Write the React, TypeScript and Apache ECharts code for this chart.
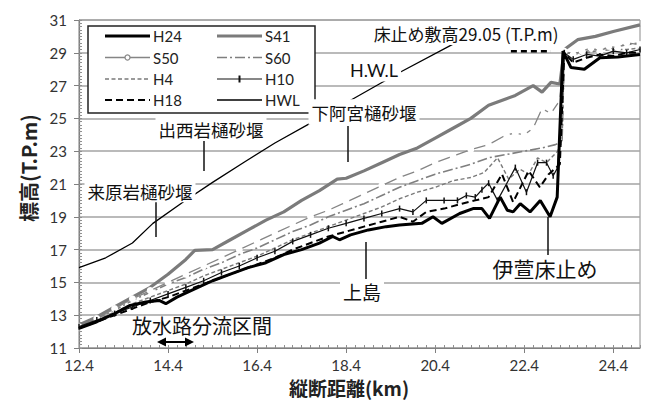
import React, { useEffect, useRef } from 'react';
import * as echarts from 'echarts';

const xTickValues = [12.4, 14.4, 16.4, 18.4, 20.4, 22.4, 24.4];
const yTickValues = [11, 13, 15, 17, 19, 21, 23, 25, 27, 29, 31];
const legendLeft = ['H24', 'S50', 'H4', 'H18'];
const legendRight = ['S41', 'S60', 'H10', 'HWL'];

const H24 = [[12.4,12.2],[12.8,12.6],[13.2,13.1],[13.55,13.6],[13.9,13.8],[14.2,13.9],[14.35,13.7],[14.6,14.1],[15.0,14.6],[15.4,15.1],[15.8,15.5],[16.2,15.9],[16.6,16.2],[17.0,16.7],[17.4,17.0],[17.8,17.4],[18.1,17.8],[18.25,17.6],[18.5,17.9],[18.9,18.2],[19.3,18.4],[19.6,18.5],[20.1,18.6],[20.35,19.0],[20.55,18.6],[20.95,19.2],[21.25,19.5],[21.45,19.5],[21.62,18.9],[21.86,20.2],[22.02,19.4],[22.15,19.3],[22.31,19.8],[22.53,19.3],[22.76,20.0],[22.98,19.0],[23.14,20.2],[23.27,29.1],[23.45,28.1],[23.75,28.0],[24.1,28.7],[24.5,28.75],[25.0,28.9]];
const S41 = [[12.4,12.4],[12.8,12.9],[13.2,13.5],[13.6,14.1],[14.0,14.7],[14.4,15.5],[14.8,16.4],[15.0,16.95],[15.4,17.0],[15.8,17.6],[16.2,18.2],[16.6,18.8],[17.0,19.3],[17.4,20.0],[17.8,20.6],[18.2,21.3],[18.4,21.35],[18.8,21.8],[19.2,22.3],[19.6,22.8],[20.0,23.2],[20.4,23.8],[20.8,24.4],[21.2,25.0],[21.6,25.8],[22.0,26.2],[22.2,26.4],[22.6,27.0],[22.8,26.6],[23.0,27.2],[23.2,27.1],[23.3,29.2],[23.6,29.8],[24.0,30.0],[24.4,30.3],[25.0,30.7]];
const S50 = [[12.4,12.3],[12.8,12.8],[13.2,13.4],[13.6,14.0],[14.0,14.5],[14.4,15.0],[14.8,15.5],[15.2,16.0],[15.6,16.5],[16.0,17.0],[16.4,17.5],[16.8,18.0],[17.2,18.5],[17.6,19.0],[18.0,19.4],[18.4,19.9],[18.8,20.4],[19.2,20.9],[19.6,21.4],[20.0,21.8],[20.4,22.3],[20.8,22.7],[21.2,23.1],[21.6,23.4],[22.0,24.0],[22.2,24.1],[22.4,24.0],[22.6,24.4],[22.8,25.6],[23.0,25.3],[23.2,26.1],[23.3,29.1],[23.5,28.9],[23.7,29.1],[23.9,29.3],[24.1,29.1],[24.3,29.4],[24.5,29.3],[24.7,29.6],[25.0,29.5]];
const S60 = [[12.4,12.3],[12.8,12.8],[13.2,13.3],[13.6,13.9],[14.0,14.4],[14.4,14.9],[14.8,15.3],[15.2,15.8],[15.6,16.2],[16.0,16.7],[16.4,17.1],[16.8,17.6],[17.2,18.1],[17.6,18.5],[18.0,19.0],[18.4,19.4],[18.8,19.8],[19.2,20.3],[19.6,20.8],[20.0,21.2],[20.4,21.6],[20.8,21.9],[21.2,22.2],[21.6,22.6],[22.0,22.8],[22.4,23.0],[22.8,23.2],[23.1,23.4],[23.25,23.6],[23.3,29.0],[23.6,29.0],[24.0,29.2],[24.4,29.3],[24.7,29.5],[25.0,29.6]];
const H4 = [[12.4,12.3],[12.8,12.7],[13.2,13.2],[13.6,13.7],[14.0,14.1],[14.4,14.5],[14.8,14.9],[15.2,15.4],[15.6,15.8],[16.0,16.2],[16.4,16.6],[16.8,17.1],[17.2,17.6],[17.6,18.0],[18.0,18.4],[18.4,18.8],[18.8,19.2],[19.2,19.6],[19.6,20.1],[20.0,20.5],[20.4,20.8],[20.8,21.2],[21.2,21.4],[21.5,21.7],[21.8,22.6],[22.05,21.3],[22.3,21.9],[22.5,21.6],[22.7,22.6],[22.9,22.3],[23.15,23.0],[23.25,23.6],[23.3,29.0],[23.6,28.9],[24.0,29.1],[24.4,29.2],[24.7,29.2],[25.0,29.3]];
const H10 = [[12.4,12.3],[12.8,12.7],[13.2,13.1],[13.6,13.5],[14.0,13.9],[14.4,14.3],[14.8,14.7],[15.2,15.1],[15.6,15.6],[16.0,16.0],[16.4,16.5],[16.8,16.9],[17.2,17.5],[17.6,17.9],[18.0,18.3],[18.4,18.6],[18.8,18.9],[19.2,19.2],[19.6,19.5],[19.9,19.3],[20.2,20.0],[20.6,20.0],[20.9,20.0],[21.1,20.3],[21.3,20.2],[21.45,20.65],[21.6,21.05],[21.8,20.0],[22.2,22.0],[22.45,20.5],[22.7,22.3],[22.9,22.3],[23.05,21.5],[23.15,22.0],[23.3,29.0],[23.5,28.6],[23.8,28.9],[24.1,28.8],[24.4,29.1],[24.7,29.0],[25.0,29.2]];
const H18 = [[12.4,12.2],[12.8,12.6],[13.2,13.0],[13.6,13.4],[14.0,13.8],[14.4,14.1],[14.8,14.5],[15.2,14.9],[15.6,15.3],[16.0,15.7],[16.4,16.1],[16.8,16.5],[17.2,17.0],[17.6,17.4],[18.0,17.8],[18.4,18.1],[18.8,18.4],[19.2,18.7],[19.6,19.0],[19.9,18.7],[20.2,19.3],[20.6,19.5],[21.0,19.8],[21.3,20.0],[21.6,20.2],[21.9,21.6],[22.15,19.9],[22.5,21.8],[22.75,20.8],[22.95,21.6],[23.2,22.2],[23.3,29.0],[23.5,28.4],[23.8,28.7],[24.1,28.9],[24.4,28.8],[24.7,29.0],[25.0,29.0]];
const HWL = [[12.4,15.9],[13.0,16.5],[13.6,17.4],[14.06,18.6],[14.74,19.9],[15.4,21.1],[16.09,22.3],[16.8,23.5],[17.59,24.7],[18.56,26.2],[19.6,27.8],[20.78,29.5],[21.3,30.2]];
const SILL = [[22.1,29.1],[23.0,29.1]];

const LATIN = 'Lato, "Noto Sans", sans-serif';
const CJK = '"Noto Sans CJK JP", "Noto Sans", sans-serif';

type Sty = { color: string; width: number; dash: number[] | null; z: number; marker?: 'circle' | 'tick' };
const STY: Record<string, Sty> = {
  S41: { color: '#7b7b7b', width: 3.2, dash: null, z: 2 },
  S50: { color: '#858585', width: 1.3, dash: null, z: 3, marker: 'circle' },
  S60: { color: '#7f7f7f', width: 1.6, dash: [10, 3, 2, 3], z: 3 },
  H4: { color: '#7a7a7a', width: 1.4, dash: [4, 2.5], z: 3 },
  H10: { color: '#111', width: 1.2, dash: null, z: 4, marker: 'tick' },
  H18: { color: '#000', width: 2, dash: [7, 4], z: 4 },
  H24: { color: '#000', width: 3, dash: null, z: 5 },
  HWL: { color: '#000', width: 1.3, dash: null, z: 5 },
  sill: { color: '#000', width: 2.5, dash: [6, 4], z: 5 },
};

function lineSeries(name: string, data: number[][]) {
  const s = STY[name];
  const base: any = {
    type: 'line',
    name,
    data,
    z: s.z,
    symbol: 'none',
    xAxisIndex: 0,
    yAxisIndex: 0,
    lineStyle: { color: s.color, width: s.width, type: s.dash || 'solid' },
    itemStyle: { color: s.color },
    emphasis: { disabled: true },
  };
  if (s.marker === 'circle') {
    base.symbol = 'emptyCircle';
    base.symbolSize = 5;
    base.showSymbol = true;
    base.itemStyle = { color: '#fff', borderColor: s.color, borderWidth: 1.2 };
  } else if (s.marker === 'tick') {
    base.symbol = 'rect';
    base.symbolSize = [1.5, 6];
    base.showSymbol = true;
  }
  return base;
}

function legendEntry(name: string, x: number, y: number) {
  const s = STY[name];
  const els: any[] = [
    { type: 'line', z: 21, shape: { x1: x, y1: y, x2: x + 45, y2: y }, style: { stroke: s.color, lineWidth: s.width, lineDash: s.dash || undefined } },
    { type: 'text', z: 21, x: x + 48, y, style: { text: name, fontSize: 15, fontFamily: LATIN, fill: '#222', align: 'left', verticalAlign: 'middle' } },
  ];
  if (s.marker === 'circle') {
    els.push({ type: 'circle', z: 22, shape: { cx: x + 22.5, cy: y, r: 2.5 }, style: { fill: '#fff', stroke: s.color, lineWidth: 1.2 } });
  } else if (s.marker === 'tick') {
    els.push({ type: 'rect', z: 22, shape: { x: x + 21.5, y: y - 3.5, width: 2, height: 7 }, style: { fill: s.color } });
  }
  return els;
}

function label(text: string, x: number, y: number, size: number, extra: any = {}) {
  return {
    type: 'text',
    x,
    y,
    z: 60,
    style: {
      text,
      fontSize: size,
      fontFamily: CJK,
      fill: '#111',
      align: 'center',
      verticalAlign: 'middle',
      backgroundColor: '#fff',
      padding: [3, 3, 2, 3],
      ...extra,
    },
  };
}

function leader(x: number, y1: number, y2: number) {
  return { type: 'line', z: 59, shape: { x1: x, y1, x2: x, y2 }, style: { stroke: '#111', lineWidth: 1.5 } };
}

export default function App() {
  const ref = useRef<HTMLDivElement>(null);
  useEffect(() => {
    const chart = echarts.init(ref.current!, null, { renderer: 'svg' });
    const rowsY = [36, 57.5, 79, 100];
    const legendEls: any[] = [];
    legendLeft.forEach((n, i) => legendEls.push(...legendEntry(n, 105, rowsY[i])));
    legendRight.forEach((n, i) => legendEls.push(...legendEntry(n, 217, rowsY[i])));
    chart.setOption({
      animation: false,
      backgroundColor: '#fff',
      grid: { left: 79, right: 9, top: 20, bottom: 53, show: true, borderColor: '#8a8a8a', borderWidth: 1, backgroundColor: '#fff' },
      xAxis: [
        {
          type: 'value', min: 12.4, max: 25, position: 'bottom',
          axisLine: { show: true, lineStyle: { color: '#808080', width: 1.2 } },
          axisTick: { show: true, customValues: xTickValues, length: 5, inside: false, lineStyle: { color: '#808080' } },
          axisLabel: { customValues: xTickValues, formatter: (v: number) => v.toFixed(1), fontSize: 15, fontFamily: LATIN, color: '#333', margin: 9 },
          splitLine: { show: false },
        },
        {
          type: 'value', min: 12.4, max: 25, interval: 0.2, position: 'bottom',
          axisLine: { show: false },
          axisTick: { show: true, inside: true, length: 3, lineStyle: { color: '#909090' } },
          axisLabel: { show: false },
          splitLine: { show: false },
        },
      ],
      yAxis: [
        {
          type: 'value', min: 11, max: 31, position: 'left',
          axisLine: { show: true, lineStyle: { color: '#808080', width: 1.2 } },
          axisTick: { show: true, customValues: yTickValues, length: 5, inside: false, lineStyle: { color: '#808080' } },
          axisLabel: { customValues: yTickValues, fontSize: 15, fontFamily: LATIN, color: '#333', margin: 12 },
          splitLine: { show: true, lineStyle: { color: '#a3a3a3', width: 1.6 } },
        },
        {
          type: 'value', min: 11, max: 31, interval: 0.2, position: 'left',
          axisLine: { show: false },
          axisTick: { show: true, inside: true, length: 3, lineStyle: { color: '#909090' } },
          axisLabel: { show: false },
          splitLine: { show: false },
        },
      ],
      series: [
        lineSeries('S41', S41),
        lineSeries('S50', S50),
        lineSeries('S60', S60),
        lineSeries('H4', H4),
        lineSeries('H10', H10),
        lineSeries('H18', H18),
        lineSeries('H24', H24),
        lineSeries('HWL', HWL),
        lineSeries('sill', SILL),
      ],
      graphic: [
        { type: 'rect', z: 15, shape: { x: 88, y: 26, width: 227, height: 87 }, style: { fill: '#fff', stroke: '#222', lineWidth: 1.5 } },
        ...legendEls,
        label('来原岩樋砂堰', 140, 191, 17.5),
        leader(156, 202, 237),
        label('出西岩樋砂堰', 211, 129, 17.5),
        leader(204, 141, 171),
        label('下阿宮樋砂堰', 364, 112, 17.5, { padding: [5, 3, 3, 3] }),
        leader(348, 126, 162),
        label('H.W.L', 374, 70, 18, { fontFamily: LATIN }),
        label('床止め敷高29.05 (T.P.m)', 466, 33, 17, { padding: [4, 3, 3, 3] }),
        label('上島', 362, 291, 19),
        leader(366, 242, 279),
        label('伊萱床止め', 545, 268, 21),
        leader(548, 217, 255),
        label('放水路分流区間', 202, 325, 20, { backgroundColor: 'transparent' }),
        { type: 'line', z: 60, shape: { x1: 162, y1: 342, x2: 189, y2: 342 }, style: { stroke: '#000', lineWidth: 2 } },
        { type: 'polygon', z: 60, shape: { points: [[157, 342], [166, 337.5], [166, 346.5]] }, style: { fill: '#000' } },
        { type: 'polygon', z: 60, shape: { points: [[194, 342], [185, 337.5], [185, 346.5]] }, style: { fill: '#000' } },
        { type: 'text', z: 60, x: 28, y: 168, rotation: Math.PI / 2, style: { text: '標高(T.P.m)', fontSize: 20, fontWeight: 'bold', fontFamily: CJK, fill: '#222', align: 'center', verticalAlign: 'middle' } },
        { type: 'text', z: 60, x: 349, y: 387, style: { text: '縦断距離(km)', fontSize: 19, fontWeight: 'bold', fontFamily: CJK, fill: '#222', align: 'center', verticalAlign: 'middle' } },
      ],
    });
    return () => chart.dispose();
  }, []);
  return <div ref={ref} style={{ position: 'absolute', left: 0, top: 0, width: 649, height: 401, background: '#fff' }} />;
}
